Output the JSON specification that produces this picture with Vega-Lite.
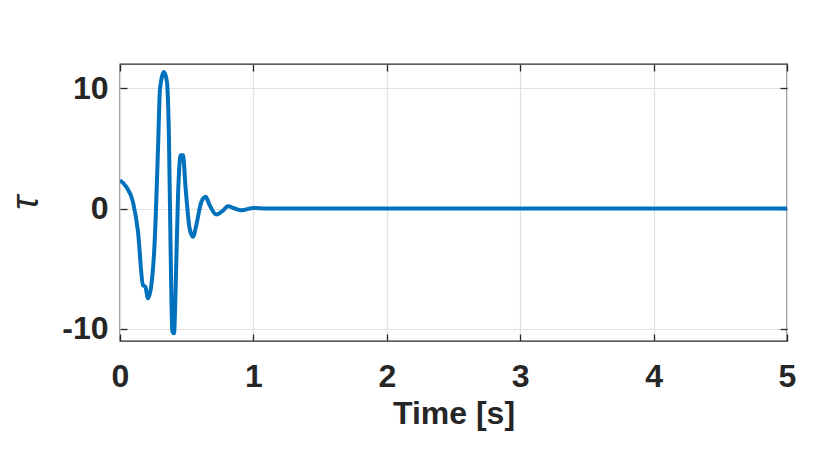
{
  "$schema": "https://vega.github.io/schema/vega-lite/v6.json",
  "autosize": "none",
  "padding": {"left": 120, "top": 64, "right": 43, "bottom": 129},
  "width": 667,
  "height": 277,
  "background": "white",
  "config": {
    "view": {"stroke": "#262626", "strokeWidth": 1.3},
    "font": "Liberation Sans"
  },
  "data": {
    "values": [
      {"t": 0, "v": 2.35},
      {"t": 0.047, "v": 1.8},
      {"t": 0.097, "v": 0.55},
      {"t": 0.135, "v": -1.93},
      {"t": 0.172, "v": -6.36},
      {"t": 0.19, "v": -6.5},
      {"t": 0.21, "v": -7.46},
      {"t": 0.235, "v": -6.36},
      {"t": 0.26, "v": -2.76},
      {"t": 0.285, "v": 4.97},
      {"t": 0.3, "v": 9.95},
      {"t": 0.33, "v": 11.33},
      {"t": 0.352, "v": 10.5},
      {"t": 0.367, "v": 5.8},
      {"t": 0.38, "v": -3.87},
      {"t": 0.392, "v": -10.2},
      {"t": 0.405, "v": -10.36},
      {"t": 0.417, "v": -6.63},
      {"t": 0.435, "v": 1.1},
      {"t": 0.455, "v": 4.42},
      {"t": 0.472, "v": 4.42},
      {"t": 0.492, "v": 1.66},
      {"t": 0.522, "v": -1.66},
      {"t": 0.547, "v": -2.35},
      {"t": 0.572, "v": -1.38},
      {"t": 0.61, "v": 0.55},
      {"t": 0.642, "v": 0.97},
      {"t": 0.672, "v": 0.28},
      {"t": 0.722, "v": -0.5},
      {"t": 0.767, "v": -0.22},
      {"t": 0.81, "v": 0.19},
      {"t": 0.86, "v": 0},
      {"t": 0.91, "v": -0.14},
      {"t": 1.0, "v": 0.05},
      {"t": 1.1, "v": 0},
      {"t": 2, "v": 0},
      {"t": 3, "v": 0},
      {"t": 4, "v": 0},
      {"t": 5, "v": 0}
    ]
  },
  "resolve": {"axis": {"x": "independent", "y": "independent"}},
  "layer": [
    {
      "mark": {"type": "line", "strokeOpacity": 0},
      "encoding": {
        "x": {
          "field": "t", "type": "quantitative",
          "scale": {"domain": [0, 5], "nice": false, "zero": false},
          "axis": {
            "orient": "top", "values": [0, 1, 2, 3, 4, 5], "title": null, "labels": false,
            "tickSize": -7, "tickColor": "#262626", "tickWidth": 1.3, "domain": false, "grid": false
          }
        },
        "y": {
          "field": "v", "type": "quantitative",
          "scale": {"domain": [-11, 12], "nice": false, "zero": false},
          "axis": {
            "orient": "right", "values": [-10, 0, 10], "title": null, "labels": false,
            "tickSize": -7, "tickColor": "#262626", "tickWidth": 1.3, "domain": false, "grid": false
          }
        }
      }
    },
    {
      "mark": {"type": "line", "color": "#0072BD", "strokeWidth": 4, "interpolate": "monotone", "clip": true},
      "encoding": {
        "x": {
          "field": "t", "type": "quantitative",
          "scale": {"domain": [0, 5], "nice": false, "zero": false},
          "axis": {
            "orient": "bottom",
            "values": [0, 1, 2, 3, 4, 5],
            "title": "Time [s]",
            "titleFontSize": 32, "titleFontWeight": "bold", "titleColor": "#262626", "titlePadding": 6,
            "labelFontSize": 32, "labelFontWeight": "bold", "labelColor": "#262626", "labelPadding": 27, "labelFlush": false,
            "tickSize": -7, "tickColor": "#262626", "tickWidth": 1.3, "domain": false,
            "grid": true, "gridColor": "#e0e0e0", "gridWidth": 1.2
          }
        },
        "y": {
          "field": "v", "type": "quantitative",
          "scale": {"domain": [-11, 12], "nice": false, "zero": false},
          "axis": {
            "orient": "left",
            "values": [-10, 0, 10],
            "labelExpr": "datum.value < 0 ? '-' + abs(datum.value) : datum.label",
            "title": "τ",
            "titleFontSize": 38, "titleFontWeight": "normal", "titleFontStyle": "italic", "titleColor": "#262626", "titlePadding": 16,
            "labelFontSize": 32, "labelFontWeight": "bold", "labelColor": "#262626", "labelPadding": 19, "labelFlush": false,
            "tickSize": -7, "tickColor": "#262626", "tickWidth": 1.3, "domain": false,
            "grid": true, "gridColor": "#e0e0e0", "gridWidth": 1.2
          }
        }
      }
    }
  ]
}
